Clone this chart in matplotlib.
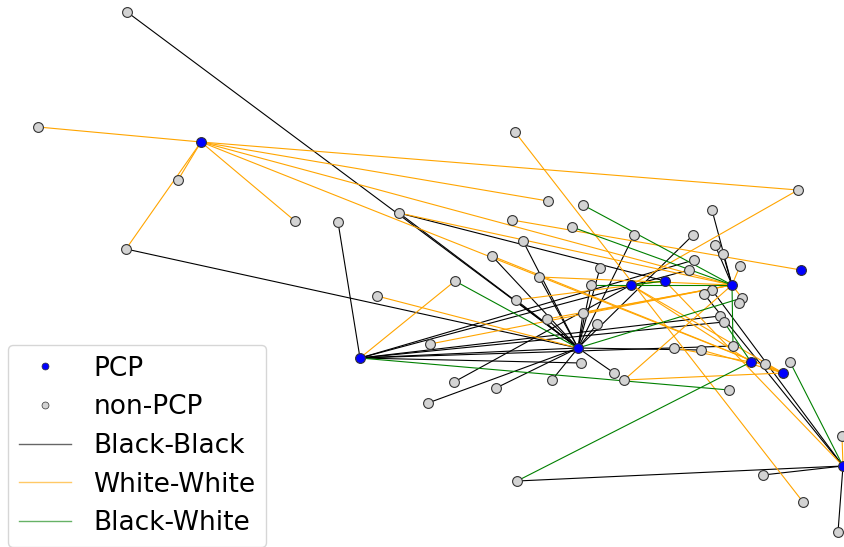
import matplotlib.pyplot as plt
from matplotlib.lines import Line2D

# node positions (pixel coords, y downwards)
pcp_names = ["P1", "P2", "P3", "P4", "P5", "P6", "P7", "P8", "P9", "P10"]
pcp_x = [201, 360, 578, 631, 665, 732, 801, 751, 783, 843]
pcp_y = [142, 358, 348, 285, 281, 285, 270, 362, 373, 466]

other_x = [127, 38, 178, 295, 126, 338, 399, 515, 548, 583,
           798, 712, 512, 572, 634, 693, 523, 715, 723, 492,
           694, 740, 600, 689, 539, 591, 455, 377, 712, 704,
           742, 739, 516, 583, 547, 720, 724, 597, 430, 674,
           701, 733, 581, 765, 790, 614, 454, 552, 624, 496,
           729, 428, 517, 763, 803, 838, 842]
other_y = [12, 127, 180, 221, 249, 222, 213, 132, 201, 205,
           190, 210, 220, 227, 235, 235, 241, 245, 254, 256,
           260, 266, 268, 270, 277, 285, 281, 296, 290, 294,
           298, 303, 300, 313, 319, 316, 322, 324, 344, 348,
           350, 346, 363, 364, 362, 373, 382, 380, 380, 388,
           390, 403, 481, 475, 502, 532, 436]
other_names = ["n%02d" % (i + 1) for i in range(len(other_x))]

black_edges = [
    ("n01", "P3"), ("n07", "P3"), ("n07", "P5"), ("n05", "P3"), ("n06", "P2"),
    ("n17", "P3"), ("n20", "P3"), ("n25", "P3"), ("n23", "P3"), ("n15", "P3"),
    ("n16", "P3"), ("n33", "P3"), ("n35", "P3"), ("n34", "P3"), ("n38", "P3"),
    ("n26", "P3"), ("n46", "P3"), ("n48", "P3"), ("n50", "P3"), ("n52", "P3"),
    ("n47", "P4"), ("P2", "P3"), ("P2", "n21"), ("P2", "n24"), ("P2", "n36"),
    ("P2", "n37"), ("P2", "n42"), ("P2", "n43"), ("P3", "n41"),
    ("n12", "P6"), ("n18", "P6"), ("n19", "P6"),
    ("n29", "P10"), ("n30", "P10"), ("n53", "P10"), ("n54", "P10"), ("n56", "P10"),
]
orange_edges = [
    ("P1", "n02"), ("P1", "n03"), ("P1", "n05"), ("P1", "n04"), ("P1", "n09"),
    ("P1", "n11"), ("P1", "P6"), ("P1", "P9"), ("n11", "P4"), ("n08", "n55"),
    ("P5", "P10"), ("n57", "P10"), ("n27", "P2"), ("n28", "P3"), ("n39", "P6"),
    ("n49", "P6"), ("n49", "P9"), ("n22", "P6"), ("n31", "P6"), ("n25", "P6"),
    ("n35", "P6"), ("n33", "P5"), ("n34", "P6"), ("n13", "P7"), ("n07", "P6"),
    ("P4", "P9"), ("n40", "P8"), ("n41", "P9"), ("n44", "P9"), ("n20", "P9"),
    ("P4", "P8"),
]
green_edges = [
    ("n10", "P6"), ("n14", "P6"), ("n26", "P6"), ("P4", "P5"), ("n27", "P3"),
    ("P3", "n31"), ("P2", "n51"), ("n53", "P8"), ("n37", "P8"), ("P6", "n42"),
    ("n45", "P10"),
]

pos = {}
for n, x, y in zip(pcp_names, pcp_x, pcp_y):
    pos[n] = (x, y)
for n, x, y in zip(other_names, other_x, other_y):
    pos[n] = (x, y)

fig = plt.figure(figsize=(8.45, 5.47), dpi=100)
ax = fig.add_axes([0, 0, 1, 1])

for edges, col in [(black_edges, "black"), (orange_edges, "orange"), (green_edges, "green")]:
    for a, b in edges:
        ax.plot([pos[a][0], pos[b][0]], [pos[a][1], pos[b][1]],
                color=col, lw=0.8, zorder=1)

ax.scatter(other_x, other_y, s=50, c="lightgray", edgecolors="#333333",
           linewidths=0.8, zorder=2)
ax.scatter(pcp_x, pcp_y, s=50, c="blue", edgecolors="#333333",
           linewidths=0.8, zorder=3)

ax.set_xlim(0, 845)
ax.set_ylim(547, 0)
ax.axis("off")

handles = [
    Line2D([], [], ls="", marker="o", markersize=5, markerfacecolor="blue",
           markeredgecolor="#333333", markeredgewidth=0.5),
    Line2D([], [], ls="", marker="o", markersize=5, markerfacecolor="lightgray",
           markeredgecolor="#333333", markeredgewidth=0.5),
    Line2D([], [], color="black", lw=1, alpha=0.6),
    Line2D([], [], color="orange", lw=1, alpha=0.6),
    Line2D([], [], color="green", lw=1, alpha=0.6),
]
labels = ["PCP", "non-PCP", "Black-Black", "White-White", "Black-White"]
fig.legend(handles, labels, loc="upper left", bbox_to_anchor=(8 / 845, 1 - 345 / 547),
           borderaxespad=0, fontsize=19, labelspacing=0.48, handlelength=2.0,
           handletextpad=0.83, borderpad=0.4, framealpha=0.8)

fig.savefig("out.png", dpi=100)
